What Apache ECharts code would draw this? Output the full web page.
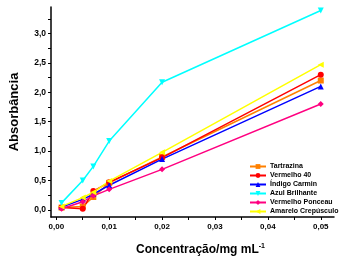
<!DOCTYPE html>
<html><head><meta charset="utf-8">
<script src="https://cdn.jsdelivr.net/npm/echarts@6/dist/echarts.min.js"></script>
<style>html,body{margin:0;padding:0;background:#fff}#c{width:346px;height:261px}</style>
</head><body><div id="c"></div>
<script>
const concentrations = [0.001, 0.005, 0.007, 0.01, 0.02, 0.05];
const seriesNames = ["Tartrazina", "Vermelho 40", "Índigo Carmin", "Azul Brilhante", "Vermelho Ponceau", "Amarelo Crepúsculo"];
const tartrazina = [0.04, 0.06, 0.22, 0.46, 0.90, 2.20];
const vermelho40 = [0.04, 0.02, 0.32, 0.47, 0.89, 2.30];
const indigoCarmin = [0.05, 0.18, 0.27, 0.42, 0.865, 2.10];
const azulBrilhante = [0.12, 0.50, 0.74, 1.17, 2.17, 3.39];
const vermelhoPonceau = [0.02, 0.14, 0.24, 0.35, 0.69, 1.80];
const amareloCrepusculo = [0.06, 0.21, 0.30, 0.49, 0.98, 2.47];
const yTickLabels = [0, 0.5, 1.0, 1.5, 2.0, 2.5, 3.0];
const xTickLabels = [0, 0.01, 0.02, 0.03, 0.04, 0.05];

const allValues = [tartrazina, vermelho40, indigoCarmin, azulBrilhante, vermelhoPonceau, amareloCrepusculo];
const colors = ["#FF8000", "#FF0000", "#0000FF", "#00FFFF", "#FF0080", "#FFFF00"];
const symbols = ["rect", "circle", "triangle", "path://M0,0 L10,0 L5,10 Z", "diamond", "path://M10,0 L10,10 L0,5 Z"];

const yMinor = [];
for (let i = 0; i <= 13; i++) yMinor.push(i * 0.25);
const xMinor = [];
for (let i = 0; i <= 10; i++) xMinor.push(+(i * 0.005).toFixed(3));

const font = "Liberation Sans, Arial, sans-serif";
const chart = echarts.init(document.getElementById('c'));
chart.setOption({
  animation: false,
  grid: {left: 51, right: 12, top: 7, bottom: 43, containLabel: false},
  xAxis: {
    type: 'value', min: -0.001, max: 0.0525,
    axisLine: {show: true, onZero: false, lineStyle: {color: '#000', width: 1.5}},
    axisTick: {show: true, customValues: xMinor, length: 3, lineStyle: {color: '#000', width: 1}},
    axisLabel: {customValues: xTickLabels, color: '#000', fontFamily: font, fontWeight: 'bold', fontSize: 8, margin: 6,
      formatter: v => v.toFixed(2).replace('.', ',')},
    splitLine: {show: false},
    name: '{a|Concentração/mg mL}{s|-1}', nameLocation: 'middle', nameGap: 26,
    nameTextStyle: {padding: [0, 0, 0, 16], rich: {
      a: {fontFamily: font, fontWeight: 'bold', fontSize: 12, color: '#000'},
      s: {fontFamily: font, fontWeight: 'bold', fontSize: 7, color: '#000', verticalAlign: 'top', padding: [0, 0, 7, 0]}
    }}
  },
  yAxis: {
    type: 'value', min: -0.12, max: 3.45,
    axisLine: {show: true, onZero: false, lineStyle: {color: '#000', width: 1.5}},
    axisTick: {show: true, customValues: yMinor, length: 3, lineStyle: {color: '#000', width: 1}},
    axisLabel: {customValues: yTickLabels, color: '#000', fontFamily: font, fontWeight: 'bold', fontSize: 8.5, margin: 5,
      formatter: v => v.toFixed(1).replace('.', ',')},
    splitLine: {show: false},
    name: 'Absorbância', nameLocation: 'middle', nameGap: 30,
    nameTextStyle: {fontFamily: font, fontWeight: 'bold', fontSize: 13, color: '#000'}
  },
  legend: {
    orient: 'vertical', left: 244, top: 158, itemWidth: 16, itemHeight: 6, itemGap: 2,
    textStyle: {fontFamily: font, fontWeight: 'bold', fontSize: 7, color: '#000', padding: [0, 0, 0, -1]},
    data: seriesNames
  },
  series: seriesNames.map((n, i) => ({
    name: n, type: 'line',
    data: concentrations.map((c, j) => [c, allValues[i][j]]),
    color: colors[i],
    symbol: symbols[i], symbolSize: 6,
    lineStyle: {width: 1.5, color: colors[i]},
    itemStyle: {color: colors[i]}
  }))
});
</script></body></html>
